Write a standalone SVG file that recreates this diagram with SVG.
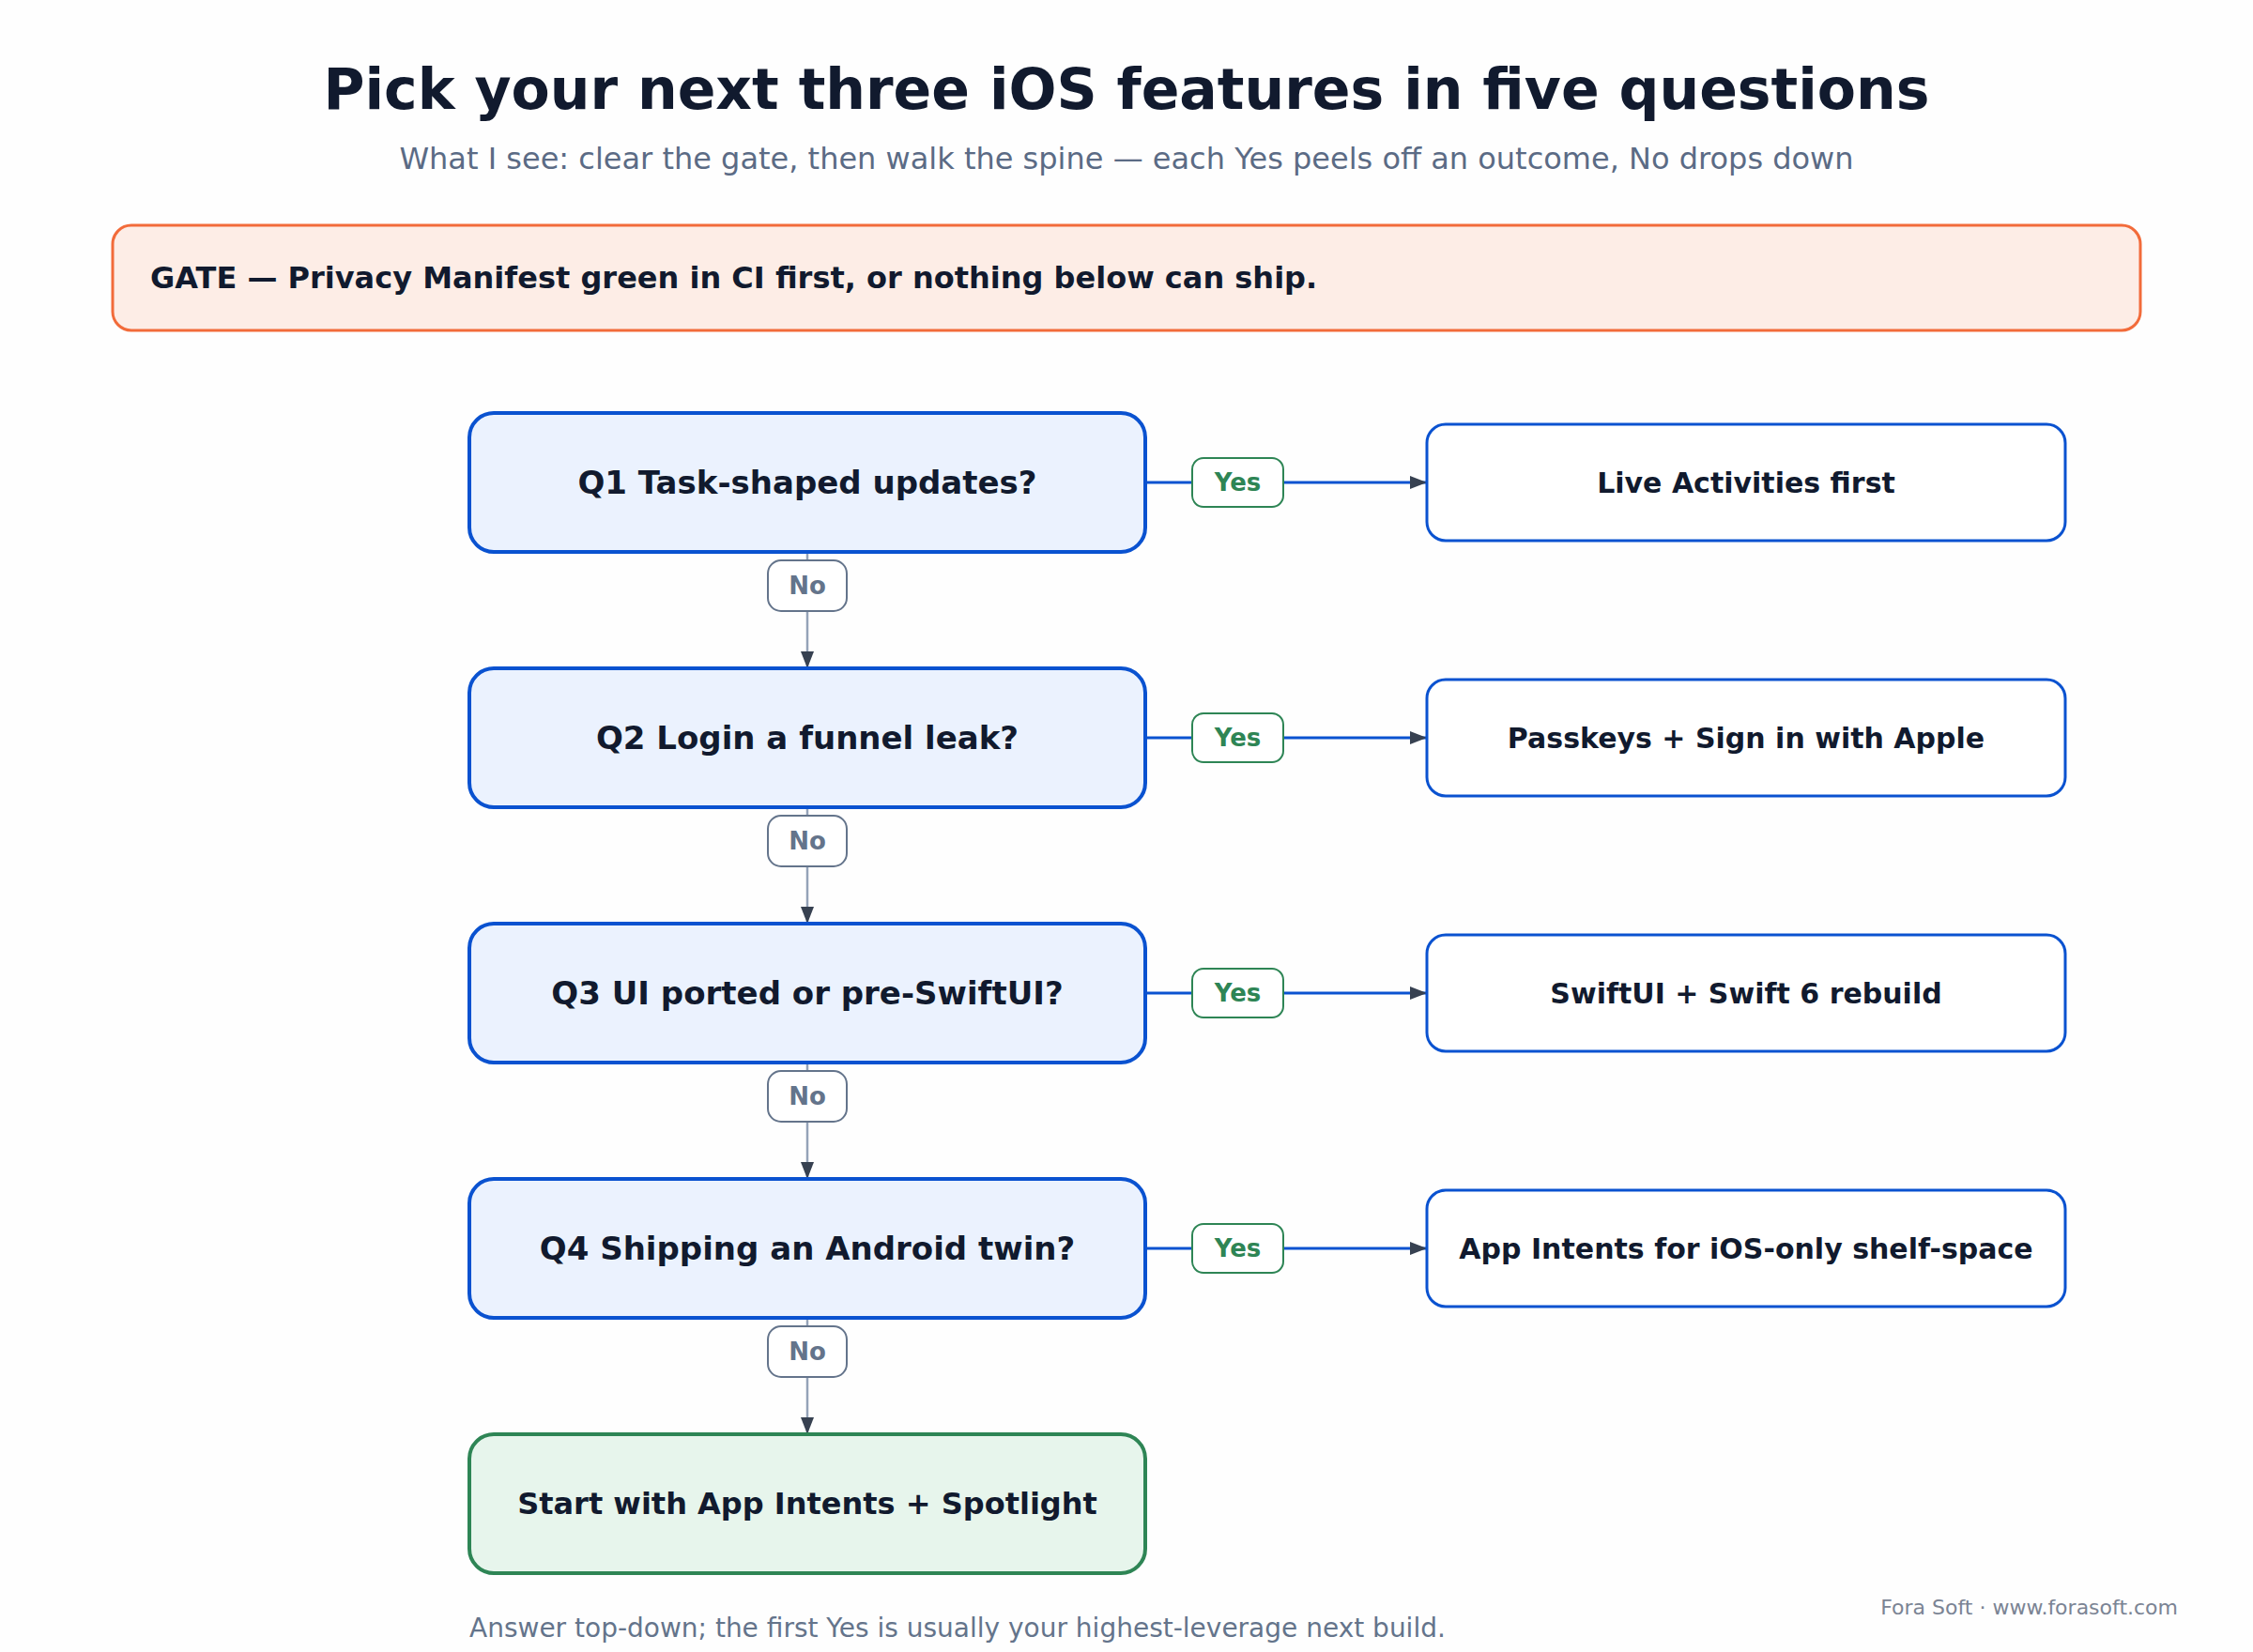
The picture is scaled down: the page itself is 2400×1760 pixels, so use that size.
<svg xmlns="http://www.w3.org/2000/svg" width="2400" height="1760" viewBox="0 0 2400 1760">
<defs>
<style>
text{font-family:"DejaVu Sans","Liberation Sans",sans-serif}
.title{font-size:60px;font-weight:bold;fill:#111a2e;text-anchor:middle}
.sub{font-size:32px;fill:#5b6b85;text-anchor:middle}
.gate{fill:#fdede6;stroke:#f26b3a;stroke-width:3}
.gatet{font-size:32px;font-weight:bold;fill:#111a2e}
.q{fill:#ebf2fe;stroke:#0a52d0;stroke-width:4}
.qt{font-size:34px;font-weight:bold;fill:#111a2e;text-anchor:middle}
.ft{font-size:32px;font-weight:bold;fill:#111a2e;text-anchor:middle}
.o{fill:#ffffff;stroke:#0a52d0;stroke-width:3}
.ot{font-size:30px;font-weight:bold;fill:#111a2e;text-anchor:middle}
.fin{fill:#e7f5ec;stroke:#2e8555;stroke-width:4}
.yes{fill:#ffffff;stroke:#2e8555;stroke-width:2}
.yest{font-size:26px;font-weight:bold;fill:#2e8555;text-anchor:middle}
.no{fill:#ffffff;stroke:#64748b;stroke-width:2}
.not{font-size:26px;font-weight:bold;fill:#64748b;text-anchor:middle}
.ey{stroke:#0a52d0;stroke-width:3;fill:none}
.en{stroke:#94a3b8;stroke-width:2.5;fill:none}
.foot{font-size:28px;fill:#64748b}
.brand{font-size:22px;fill:#7b8494;text-anchor:end}
</style>
<marker id="arr" markerUnits="userSpaceOnUse" markerWidth="18" markerHeight="14" refX="18" refY="7" orient="auto">
<path d="M0,0 L18,7 L0,14 z" fill="#374151"/>
</marker>
</defs>
<rect width="2400" height="1760" fill="#fefefe"/>
<text class="title" x="1200" y="116">Pick your next three iOS features in five questions</text>
<text class="sub" x="1200" y="180">What I see: clear the gate, then walk the spine — each Yes peels off an outcome, No drops down</text>
<g id="gate">
<rect class="gate" x="120" y="240" width="2160" height="112" rx="20"/>
<text class="gatet" x="160" y="307">GATE — Privacy Manifest green in CI first, or nothing below can ship.</text>
</g>
<g id="connectors">
<line class="ey" x1="1220" y1="514" x2="1520" y2="514" marker-end="url(#arr)"/>
<line class="ey" x1="1220" y1="786" x2="1520" y2="786" marker-end="url(#arr)"/>
<line class="ey" x1="1220" y1="1058" x2="1520" y2="1058" marker-end="url(#arr)"/>
<line class="ey" x1="1220" y1="1330" x2="1520" y2="1330" marker-end="url(#arr)"/>
<line class="en" x1="860" y1="588" x2="860" y2="712" marker-end="url(#arr)"/>
<line class="en" x1="860" y1="860" x2="860" y2="984" marker-end="url(#arr)"/>
<line class="en" x1="860" y1="1132" x2="860" y2="1256" marker-end="url(#arr)"/>
<line class="en" x1="860" y1="1404" x2="860" y2="1528" marker-end="url(#arr)"/>
<g id="yes1"><rect class="yes" x="1270" y="488" width="97" height="52" rx="12"/><text class="yest" x="1318.5" y="523">Yes</text></g>
<g id="yes2"><rect class="yes" x="1270" y="760" width="97" height="52" rx="12"/><text class="yest" x="1318.5" y="795">Yes</text></g>
<g id="yes3"><rect class="yes" x="1270" y="1032" width="97" height="52" rx="12"/><text class="yest" x="1318.5" y="1067">Yes</text></g>
<g id="yes4"><rect class="yes" x="1270" y="1304" width="97" height="52" rx="12"/><text class="yest" x="1318.5" y="1339">Yes</text></g>
<g id="no1"><rect class="no" x="818" y="597" width="84" height="54" rx="14"/><text class="not" x="860" y="633">No</text></g>
<g id="no2"><rect class="no" x="818" y="869" width="84" height="54" rx="14"/><text class="not" x="860" y="905">No</text></g>
<g id="no3"><rect class="no" x="818" y="1141" width="84" height="54" rx="14"/><text class="not" x="860" y="1177">No</text></g>
<g id="no4"><rect class="no" x="818" y="1413" width="84" height="54" rx="14"/><text class="not" x="860" y="1449">No</text></g>
</g>
<g id="q1"><rect class="q" x="500" y="440" width="720" height="148" rx="26"/><text class="qt" x="860" y="526">Q1 Task-shaped updates?</text></g>
<g id="q2"><rect class="q" x="500" y="712" width="720" height="148" rx="26"/><text class="qt" x="860" y="798">Q2 Login a funnel leak?</text></g>
<g id="q3"><rect class="q" x="500" y="984" width="720" height="148" rx="26"/><text class="qt" x="860" y="1070">Q3 UI ported or pre-SwiftUI?</text></g>
<g id="q4"><rect class="q" x="500" y="1256" width="720" height="148" rx="26"/><text class="qt" x="860" y="1342">Q4 Shipping an Android twin?</text></g>
<g id="final"><rect class="fin" x="500" y="1528" width="720" height="148" rx="26"/><text class="ft" x="860" y="1613">Start with App Intents + Spotlight</text></g>
<g id="o1"><rect class="o" x="1520" y="452" width="680" height="124" rx="20"/><text class="ot" x="1860" y="525">Live Activities first</text></g>
<g id="o2"><rect class="o" x="1520" y="724" width="680" height="124" rx="20"/><text class="ot" x="1860" y="797">Passkeys + Sign in with Apple</text></g>
<g id="o3"><rect class="o" x="1520" y="996" width="680" height="124" rx="20"/><text class="ot" x="1860" y="1069">SwiftUI + Swift 6 rebuild</text></g>
<g id="o4"><rect class="o" x="1520" y="1268" width="680" height="124" rx="20"/><text class="ot" x="1860" y="1341">App Intents for iOS-only shelf-space</text></g>
<text class="foot" x="500" y="1744">Answer top-down; the first Yes is usually your highest-leverage next build.</text>
<text class="brand" x="2320" y="1720">Fora Soft · www.forasoft.com</text>
</svg>
